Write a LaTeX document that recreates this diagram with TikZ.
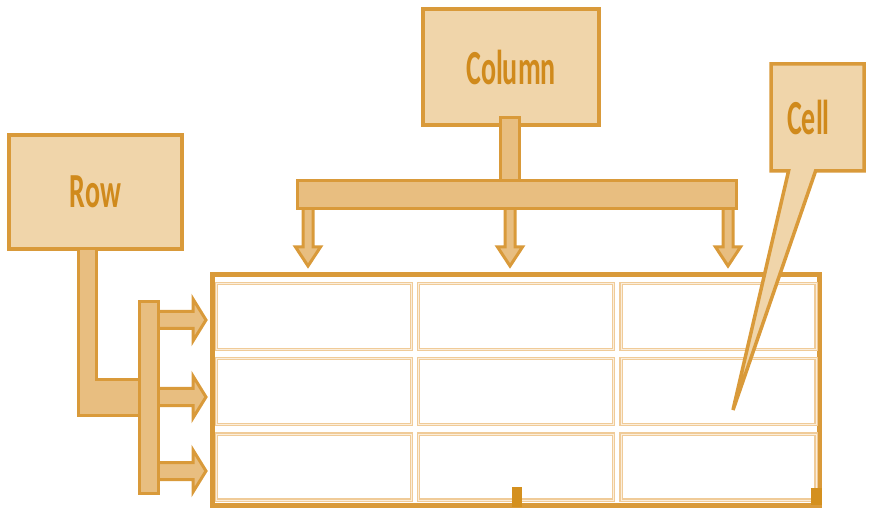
\documentclass[tikz,border=0pt]{standalone}
\usepackage{fontspec}
\usepackage{graphicx}
\usetikzlibrary{shapes.callouts}
\newfontfamily\tagfont{Carlito}
\newcommand{\tall}[1]{\scalebox{1}[1.75]{#1}}
\definecolor{edge}{HTML}{D99A3A}
\definecolor{boxfill}{HTML}{F0D5AA}
\definecolor{barfill}{HTML}{E8BE80}
\definecolor{tagtext}{HTML}{D08A1C}
\definecolor{gridline}{HTML}{F0CB98}
\definecolor{gridpale}{HTML}{FBEEDC}
\definecolor{notch}{HTML}{D4901E}
\tikzset{
  tagbox/.style={draw=edge, line width=4pt, fill=boxfill, text=tagtext,
    font=\tagfont\bfseries\fontsize{28}{28}\selectfont, inner sep=0pt},
  bar/.style={draw=edge, line width=3pt, fill=barfill, line join=miter},
  gridcell/.style={draw=gridline, line width=1.1pt, double=gridpale,
    double distance=0.9pt, minimum width=195pt, minimum height=66pt, inner sep=0pt}
}
\begin{document}
\begin{tikzpicture}[x=1pt,y=-1pt]
\useasboundingbox (0,0) rectangle (870,510);

% the table
\draw[edge, line width=5pt, fill=white] (212.5,274.5) rectangle (819.5,505.5);
\foreach \r/\y in {1/316.5, 2/391.5, 3/467}
  \foreach \c/\x in {1/314, 2/516, 3/718.5}
    \node[gridcell] (cell-\r-\c) at (\x,\y) {};
\fill[notch] (512,487) rectangle (522,507);
\fill[notch] (811,488) rectangle (822,505);

% labels
\node[tagbox, minimum width=173pt, minimum height=114pt] (row) at (95.5,192) {\tall{Row}};
\node[tagbox, minimum width=176pt, minimum height=116pt] (column) at (511,67) {\tall{Column}};
\coordinate (celltip) at (733,410);
\node[tagbox, rectangle callout, callout absolute pointer={(celltip)},
  callout pointer width=27pt, minimum width=93pt, minimum height=107pt,
  line width=3.5pt] (cell) at (817.5,117.5) {\tall{Cell}\kern18pt};

% column bracket and its arrows
\draw[bar] (500.5,118) rectangle (519.5,185);
\foreach \x in {308, 510, 728}
  \draw[bar] (\x-5,200) -- (\x-5,247) -- (\x-12.5,247) -- (\x,266)
    -- (\x+12.5,247) -- (\x+5,247) -- (\x+5,200) -- cycle;
\draw[bar] (297.5,180.5) rectangle (736.5,208.5);

% row bracket and its arrows
\draw[bar] (78.5,249) -- (96.5,249) -- (96.5,379.5) -- (145,379.5)
  -- (145,415.5) -- (78.5,415.5) -- cycle;
\foreach \y in {320, 397, 471}
  \draw[bar] (150,\y-8.5) -- (193,\y-8.5) -- (193,\y-21) -- (206,\y)
    -- (193,\y+21) -- (193,\y+8.5) -- (150,\y+8.5) -- cycle;
\draw[bar] (139.5,301.5) rectangle (158.5,493.5);
\end{tikzpicture}
\end{document}
